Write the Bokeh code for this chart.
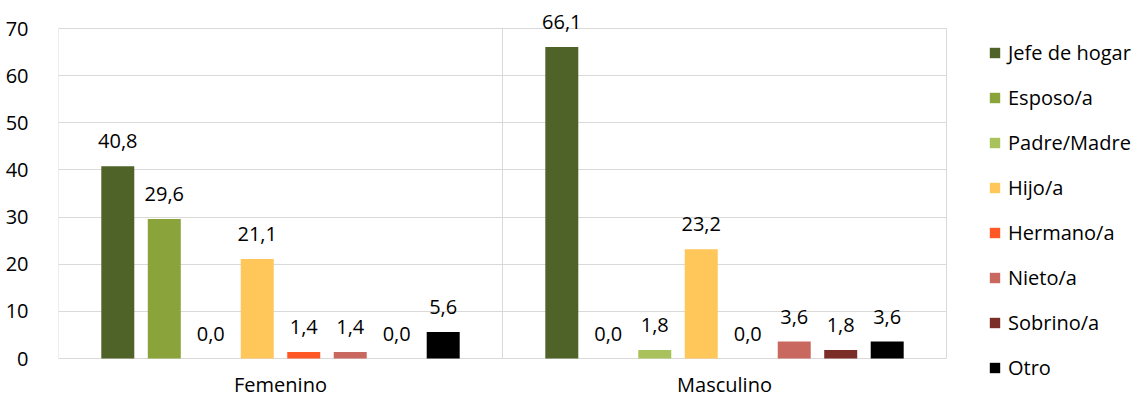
from bokeh.plotting import figure
from bokeh.models import (ColumnDataSource, Range1d, Legend, LegendItem,
                          SingleIntervalTicker, LabelSet, BoxAnnotation)
from bokeh.transform import dodge
from bokeh.core.properties import value
from bokeh.embed import file_html
from bokeh.resources import INLINE

categories = ["Femenino", "Masculino"]
series_names = ["Jefe de hogar", "Esposo/a", "Padre/Madre", "Hijo/a",
                "Hermano/a", "Nieto/a", "Sobrino/a", "Otro"]
jefe = [40.8, 66.1]
esposo = [29.6, 0.0]
padre = [0.0, 1.8]
hijo = [21.1, 23.2]
hermano = [1.4, 0.0]
nieto = [1.4, 3.6]
sobrino = [0.0, 1.8]
otro = [5.6, 3.6]
series_values = [jefe, esposo, padre, hijo, hermano, nieto, sobrino, otro]
colors = ["#4F6228", "#8BA33B", "#A9C25B", "#FFC65A",
          "#FF5726", "#C9685E", "#7B2E27", "#000000"]
y_max = 70

FONT = "Open Sans"
FS = "20px"
GRID = "#D9D9D9"

W, H = 1140, 398
LEFT = 58            # left border (y tick labels)
ZERO_PX = 358        # screen row of the value 0
TOP_PX = 28          # screen row of the value y_max
CAT_PX = 444         # width of one category slot
ppu = (ZERO_PX - TOP_PX) / y_max
n_cat = len(categories)

p = figure(x_range=Range1d(0, (W - LEFT) / CAT_PX),
           y_range=Range1d(-(H - ZERO_PX) / ppu, ZERO_PX / ppu),
           width=W, height=H, output_backend="svg", toolbar_location=None,
           x_axis_location=None,
           min_border_left=LEFT, min_border_right=0, min_border_top=0,
           min_border_bottom=0)

pos = [i + 0.5 for i in range(n_cat)]
pitch = 0.1047
bw = 0.0743
items = []
for i, (name, vals, col) in enumerate(zip(series_names, series_values, colors)):
    src = ColumnDataSource(dict(pos=pos, val=vals,
                                lab=[f"{v:.1f}".replace(".", ",") for v in vals]))
    off = (i - 3.5) * pitch
    r = p.vbar(x=dodge("pos", off), top="val", width=bw,
               source=src, fill_color=col, line_color=None)
    p.add_layout(LabelSet(x=dodge("pos", off), y="val", text="lab",
                          source=src, text_align="center", text_baseline="middle",
                          y_offset=25, text_font=value(FONT), text_font_size=value(FS),
                          text_color="#000000"))
    items.append(LegendItem(label=name, renderers=[r]))

# category names under the axis
p.text(x=pos, y=[0] * n_cat, text=categories, y_offset=26,
       text_align="center", text_baseline="middle",
       text_font=value(FONT), text_font_size=value(FS), text_color="#000000")

# plot-area borders / category separators (from 0 to the top gridline)
bounds = list(range(n_cat + 1))
p.segment(x0=bounds, x1=bounds, y0=[0] * len(bounds), y1=[y_max] * len(bounds),
          line_color=GRID, line_width=1)

p.outline_line_color = None
p.xgrid.grid_line_color = None
p.ygrid.grid_line_color = GRID
try:
    p.ygrid.cross_bounds = (0, n_cat)
except Exception:
    p.add_layout(BoxAnnotation(left=n_cat, fill_color="white", fill_alpha=1,
                               line_color=None, level="underlay"))
p.yaxis.ticker = SingleIntervalTicker(interval=10)
p.yaxis.axis_line_color = None
p.yaxis.major_tick_line_color = None
p.yaxis.minor_tick_line_color = None
p.yaxis.major_label_standoff = 24
p.yaxis.major_label_text_font = FONT
p.yaxis.major_label_text_font_size = FS
p.yaxis.major_label_text_color = "#000000"

legend = Legend(items=items, location=(930, 17), orientation="vertical")
legend.glyph_width = 13
legend.glyph_height = 13
legend.label_standoff = 7
legend.label_height = 27
legend.spacing = 18
legend.padding = 0
legend.margin = 0
legend.border_line_alpha = 0
legend.background_fill_alpha = 0
legend.label_text_font = FONT
legend.label_text_font_size = FS
legend.label_text_color = "#000000"
p.add_layout(legend)

open("out.html", "w").write(file_html(p, INLINE))
